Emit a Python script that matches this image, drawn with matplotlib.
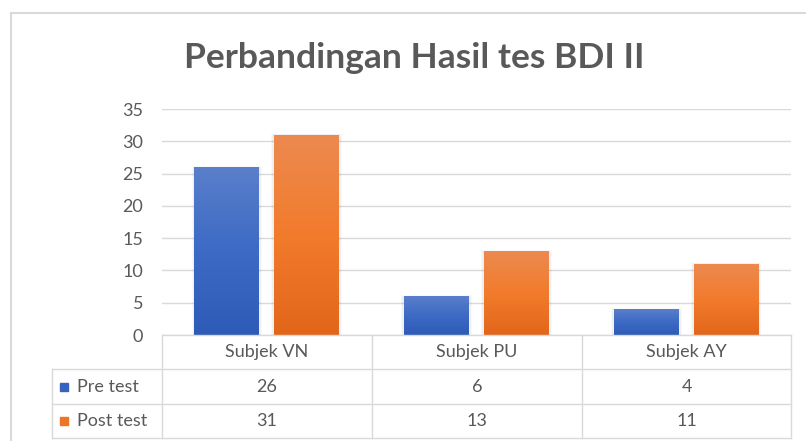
import matplotlib
matplotlib.use('Agg')
import matplotlib.pyplot as plt
import numpy as np
from matplotlib.colors import LinearSegmentedColormap
from matplotlib.lines import Line2D
from matplotlib.patches import Rectangle

# data
categories = ['Subjek VN', 'Subjek PU', 'Subjek AY']
pre_test = [26, 6, 4]
post_test = [31, 13, 11]
series_names = ['Pre test', 'Post test']
title = 'Perbandingan Hasil tes BDI II'

plt.rcParams['font.family'] = ['Lato', 'DejaVu Sans']
text_color = '#595959'
grid_color = '#D9D9D9'

W, H = 806, 441
fig = plt.figure(figsize=(W / 100, H / 100), dpi=100)

def fx(px):
    return px / W

def fy(py):
    return 1 - py / H

ax_l, ax_r, ax_t, ax_b = 162, 791, 109, 335
ax = fig.add_axes([fx(ax_l), fy(ax_b), fx(ax_r - ax_l), fy(ax_t) - fy(ax_b)])

x = np.arange(len(categories))
bw = 0.31
gap = 0.07
blue_cm = LinearSegmentedColormap.from_list('b', ['#2D5BB7', '#3C6AC4', '#5A7FCB'])
orange_cm = LinearSegmentedColormap.from_list('o', ['#E2661A', '#F27B2C', '#EC8A50'])

bars_pre = ax.bar(x - (bw + gap) / 2, pre_test, bw, color='none', zorder=3)
bars_post = ax.bar(x + (bw + gap) / 2, post_test, bw, color='none', zorder=3)

grad = np.linspace(0, 1, 256).reshape(-1, 1)
for bars, cm in [(bars_pre, blue_cm), (bars_post, orange_cm)]:
    for b in bars:
        x0, y0 = b.get_x(), b.get_y()
        w, h = b.get_width(), b.get_height()
        # soft shadow
        for k, a in [(0.014, 0.025), (0.008, 0.035)]:
            ax.add_patch(Rectangle((x0 - k, y0), w + 2 * k, h + k * 10, color='#000000',
                                   alpha=a, lw=0, zorder=2))
        im = ax.imshow(grad, cmap=cm, extent=[x0, x0 + w, y0, y0 + h], origin='lower',
                       aspect='auto', zorder=3)
        im.set_clip_path(b)

ax.set_xlim(-0.5, len(categories) - 0.5)
ax.set_ylim(0, 35)
ax.set_yticks(range(0, 36, 5))
ax.set_xticks([])
ax.yaxis.grid(True, color=grid_color, lw=1)
ax.set_axisbelow(True)
for s in ax.spines.values():
    s.set_visible(False)
ax.tick_params(axis='y', length=0, pad=13.5, labelsize=13, labelcolor=text_color)

# chart border
fig.add_artist(Line2D([fx(10.5), fx(10.5)], [fy(12.5), 0], color='#D9D9D9', lw=1.5))
fig.add_artist(Line2D([fx(10.5), 1], [fy(12.5), fy(12.5)], color='#D9D9D9', lw=1.5))

fig.text(0.5 * (183 + 645) / W, fy(58), title, ha='center', va='center', fontsize=25.5,
         fontweight='bold', color=text_color)

# data table
row_y = [335, 369, 404, 438]
col_x = [ax_l, 372, 582, ax_r]
leg_l = 52
tcol = '#D9D9D9'
for yy in row_y:
    xs = ax_l if yy == 335 else leg_l
    fig.add_artist(Line2D([fx(xs), fx(ax_r)], [fy(yy), fy(yy)], color=tcol, lw=1))
for xx in col_x:
    fig.add_artist(Line2D([fx(xx), fx(xx)], [fy(335), fy(438)], color=tcol, lw=1))
fig.add_artist(Line2D([fx(leg_l), fx(leg_l)], [fy(369), fy(438)], color=tcol, lw=1))

fs = 13
for i, c in enumerate(categories):
    cx = (col_x[i] + col_x[i + 1]) / 2
    fig.text(fx(cx), fy(352), c, ha='center', va='center', fontsize=fs, color=text_color)
    fig.text(fx(cx), fy(386.5), str(pre_test[i]), ha='center', va='center', fontsize=fs,
             color=text_color)
    fig.text(fx(cx), fy(421), str(post_test[i]), ha='center', va='center', fontsize=fs,
             color=text_color)

for name, col, yy in [(series_names[0], '#3563BD', 386.5), (series_names[1], '#EE7526', 421)]:
    fig.add_artist(Rectangle((fx(60), fy(yy + 4)), fx(8), fy(yy - 4) - fy(yy + 4), color=col))
    fig.text(fx(77), fy(yy), name, ha='left', va='center', fontsize=fs, color=text_color)

fig.savefig('out.png', dpi=100)
